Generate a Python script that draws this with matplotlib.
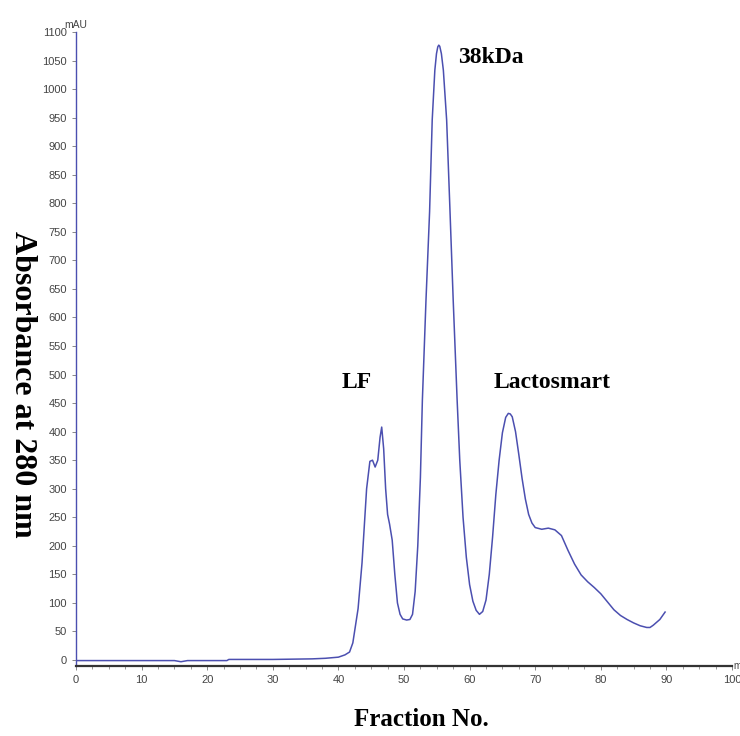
import matplotlib
matplotlib.use("Agg")
import matplotlib.pyplot as plt
from matplotlib.ticker import MultipleLocator

# Data (fraction number vs absorbance in mAU)
fraction = [0, 10, 15, 16, 17, 18, 23, 23.3, 30, 36, 38, 40, 41, 41.7, 42.2, 42.6, 43.0, 43.6,
            44.3, 44.8, 45.2, 45.6, 46.0, 46.35, 46.6, 46.9, 47.2, 47.5, 47.8, 48.2, 48.6, 49.0,
            49.4, 49.8, 50.4, 50.9, 51.3, 51.7, 52.1, 52.5, 52.8, 53.35, 53.9, 54.3, 54.7, 54.95,
            55.15, 55.3, 55.45, 55.7, 56.0, 56.5, 57.0, 57.5, 58.1, 58.5, 59.0, 59.5, 60.0, 60.5,
            61.0, 61.5, 62.0, 62.5, 63.0, 63.5, 64.0, 64.5, 65.0, 65.5, 65.9, 66.2, 66.5, 67.0,
            67.5, 68.0, 68.5, 69.0, 69.5, 70.0, 71.0, 72.0, 73.0, 74.0, 75.0, 76.0, 77.0, 78.0,
            79.0, 80.0, 81.0, 82.0, 83.0, 84.0, 85.0, 86.0, 87.0, 87.5, 88.0, 89.0, 89.8]
absorbance = [-1, -1, -1, -3, -1, -1, -1, 1, 1, 2, 3, 5, 9, 14, 30, 60, 90, 170,
              300, 348, 350, 338, 350, 390, 408, 370, 300, 255, 238, 210, 150, 100,
              80, 72, 70, 71, 80, 120, 200, 320, 455, 630, 785, 946, 1033, 1062,
              1074, 1077, 1075, 1062, 1033, 946, 790, 630, 455, 350, 250, 180, 132, 103,
              87, 80, 85, 105, 150, 215, 290, 350, 398, 425, 432, 431, 426, 400,
              360, 318, 282, 255, 240, 232, 229, 231, 228, 218, 192, 168, 149, 137,
              127, 116, 102, 88, 78, 71, 65, 60, 57, 57, 61, 71, 84]

x_ticks = list(range(0, 101, 10))
y_ticks = list(range(0, 1101, 50))
annotations = [("38kDa", 58.2, 1045), ("LF", 40.5, 476), ("Lactosmart", 63.7, 476)]

line_color = "#4b4fb0"

fig = plt.figure(figsize=(7.40, 7.36), dpi=100)
ax = fig.add_axes([0.1027, 0.0951, 0.8865, 0.8614])

ax.plot(fraction, absorbance, color=line_color, lw=1.1)

ax.set_xlim(0, 100)
ax.set_ylim(-10.5, 1100)
ax.set_xticks(x_ticks)
ax.set_yticks(y_ticks)
ax.xaxis.set_minor_locator(MultipleLocator(2.5))

for s in ("top", "right"):
    ax.spines[s].set_visible(False)
ax.spines["left"].set_color(line_color)
ax.spines["left"].set_linewidth(1.0)
ax.spines["bottom"].set_color("#333333")
ax.spines["bottom"].set_linewidth(1.6)

ax.tick_params(axis="both", which="major", labelsize=8, labelcolor="#444444",
               color="#888888", length=3, width=0.7)
ax.tick_params(axis="x", which="minor", color="#888888", length=2, width=0.6)
for lbl in ax.get_xticklabels() + ax.get_yticklabels():
    lbl.set_family("Liberation Sans")

ax.text(0, 1103, "mAU", fontsize=7.5, color="#444444", family="Liberation Sans",
        ha="center", va="bottom")
ax.text(100.2, -10.5, "m", fontsize=7, color="#444444", family="Liberation Sans",
        ha="left", va="center", clip_on=False)

for label, xv, yv in annotations:
    ax.text(xv, yv, label, fontsize=17, fontweight="bold", family="Liberation Serif",
            ha="left", va="baseline")

fig.text(0.570, 0.022, "Fraction No.", fontsize=18, fontweight="bold",
         family="Liberation Serif", ha="center", va="center")
fig.text(0.030, 0.478, "Absorbance at 280 nm", fontsize=23, fontweight="bold",
         family="Liberation Serif", ha="center", va="center", rotation=270)

fig.savefig("out.png", dpi=100, facecolor="white")
